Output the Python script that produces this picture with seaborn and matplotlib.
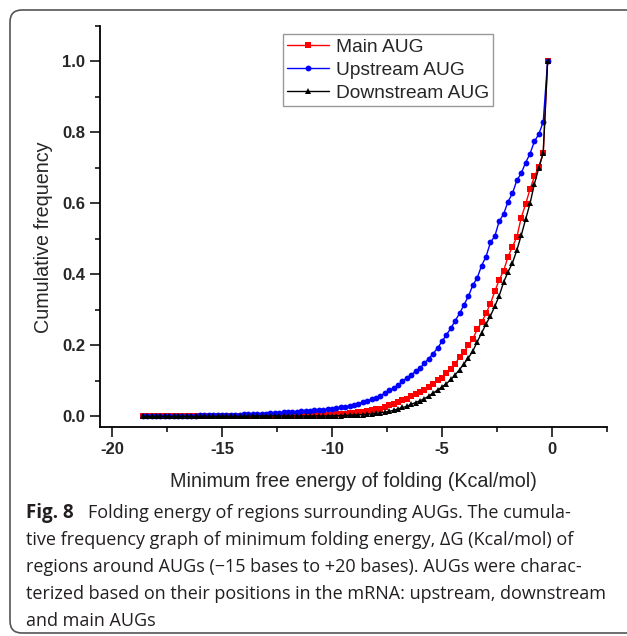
import matplotlib
matplotlib.use("Agg")
import matplotlib.pyplot as plt
import seaborn as sns
from matplotlib.patches import FancyBboxPatch
from matplotlib.transforms import IdentityTransform
from matplotlib.ticker import MultipleLocator

# Bin centres of the folding energy (Kcal/mol)
energy = [-18.6, -18.4, -18.2, -18.0, -17.8, -17.6, -17.4, -17.2, -17.0, -16.8,
          -16.6, -16.4, -16.2, -16.0, -15.8, -15.6, -15.4, -15.2, -15.0, -14.8,
          -14.6, -14.4, -14.2, -14.0, -13.8, -13.6, -13.4, -13.2, -13.0, -12.8,
          -12.6, -12.4, -12.2, -12.0, -11.8, -11.6, -11.4, -11.2, -11.0, -10.8,
          -10.6, -10.4, -10.2, -10.0, -9.8, -9.6, -9.4, -9.2, -9.0, -8.8,
          -8.6, -8.4, -8.2, -8.0, -7.8, -7.6, -7.4, -7.2, -7.0, -6.8,
          -6.6, -6.4, -6.2, -6.0, -5.8, -5.6, -5.4, -5.2, -5.0, -4.8,
          -4.6, -4.4, -4.2, -4.0, -3.8, -3.6, -3.4, -3.2, -3.0, -2.8,
          -2.6, -2.4, -2.2, -2.0, -1.8, -1.6, -1.4, -1.2, -1.0, -0.8,
          -0.6, -0.4, -0.2]

main_aug = [0, 0, 0, 0, 0, 0, 0, 0, 0, 0,
            0, 0, 0, 0, 0, .001, .001, .001, .001, .001,
            .001, .001, .001, .001, .001, .001, .001, .001, .002, .002,
            .002, .002, .002, .002, .002, .003, .003, .003, .003, .004,
            .004, .004, .005, .005, .006, .007, .008, .009, .010, .011,
            .012, .015, .017, .020, .022, .026, .031, .035, .040, .045,
            .049, .056, .062, .068, .075, .084, .092, .102, .108, .121,
            .134, .148, .168, .182, .200, .218, .245, .265, .290, .318,
            .352, .385, .410, .450, .478, .505, .560, .598, .640, .676,
            .703, .742, 1.0]

upstream_aug = [.001, .001, .001, .001, .001, .001, .001, .001, .002, .002,
                .002, .002, .002, .003, .003, .003, .003, .004, .004, .004,
                .005, .005, .005, .006, .006, .007, .007, .008, .008, .009,
                .010, .010, .011, .012, .012, .013, .014, .015, .016, .017,
                .018, .019, .020, .021, .023, .025, .027, .030, .033, .036,
                .040, .044, .048, .053, .058, .065, .073, .080, .088, .099,
                .108, .117, .127, .136, .150, .163, .177, .193, .211, .230,
                .248, .270, .290, .315, .338, .370, .390, .425, .450, .490,
                .508, .550, .570, .605, .628, .665, .685, .715, .740, .775,
                .795, .830, 1.0]

downstream_aug = [0, 0, 0, 0, 0, 0, 0, 0, 0, 0,
                  0, 0, 0, 0, 0, 0, 0, 0, 0, 0,
                  0, 0, 0, 0, 0, .001, .001, .001, .001, .001,
                  .001, .001, .001, .001, .001, .001, .001, .001, .001, .001,
                  .001, .001, .001, .002, .002, .002, .003, .003, .004, .004,
                  .005, .006, .007, .009, .010, .012, .014, .017, .021, .025,
                  .028, .034, .039, .044, .050, .057, .066, .074, .083, .092,
                  .104, .117, .132, .148, .165, .184, .210, .235, .260, .283,
                  .310, .340, .378, .407, .432, .468, .510, .555, .600, .655,
                  .700, .742, 1.0]

x_ticks = [-20, -15, -10, -5, 0]
y_ticks = [0.0, 0.2, 0.4, 0.6, 0.8, 1.0]

caption = [
    "tive frequency graph of minimum folding energy, \u0394G (Kcal/mol) of",
    "regions around AUGs (\u221215 bases to +20 bases). AUGs were charac-",
    "terized based on their positions in the mRNA: upstream, downstream",
    "and main AUGs",
]

sns.set_style("ticks")
plt.rcParams["font.family"] = ["Liberation Sans", "DejaVu Sans"]

fig = plt.figure(figsize=(6.27, 6.36), dpi=100)
ax = fig.add_axes([100 / 627, 1 - 427 / 636, 507 / 627, 401 / 636])

sns.lineplot(x=energy, y=main_aug, ax=ax, color="#ff0000", marker="s",
             markersize=3.8, markeredgewidth=0, linewidth=1.0, label="Main AUG")
sns.lineplot(x=energy, y=upstream_aug, ax=ax, color="#0000ff", marker="o",
             markersize=4.2, markeredgewidth=0, linewidth=1.0, label="Upstream AUG")
sns.lineplot(x=energy, y=downstream_aug, ax=ax, color="#000000", marker="^",
             markersize=4.8, markeredgewidth=0, linewidth=1.0, label="Downstream AUG")

ax.set_xlim(-20.55, 2.5)
ax.set_ylim(-0.03, 1.1)
ax.set_xticks(x_ticks)
ax.set_yticks(y_ticks)
ax.set_xticklabels([str(t) for t in x_ticks], fontweight="bold", fontsize=12)
ax.set_yticklabels([f"{t:.1f}" for t in y_ticks], fontweight="bold", fontsize=12)
ax.xaxis.set_minor_locator(MultipleLocator(2.5))
ax.yaxis.set_minor_locator(MultipleLocator(0.1))
ax.tick_params(which="major", direction="out", length=7.5, width=1.1, color="black", pad=3)
ax.tick_params(which="minor", direction="out", length=3.6, width=1.1, color="black")
for side in ["left", "bottom"]:
    ax.spines[side].set_linewidth(1.3)
    ax.spines[side].set_color("black")
sns.despine(ax=ax)

ax.set_xlabel("Minimum free energy of folding (Kcal/mol)", fontsize=14.2)
ax.set_ylabel("Cumulative frequency", fontsize=14.2)
ax.xaxis.set_label_coords(0.5, -0.135)
ax.xaxis.label.set_va("center")
ax.yaxis.set_label_coords(-0.112, 0.474)
ax.yaxis.label.set_va("center")

leg = ax.legend(loc="upper left", bbox_to_anchor=(0.361, 0.98), borderaxespad=0,
                fontsize=13.8, frameon=True, fancybox=False, handlelength=2.2,
                handletextpad=0.35, labelspacing=0.3, borderpad=0.22)
leg.get_frame().set_edgecolor("#808080")
leg.get_frame().set_linewidth(1.0)

# caption below the chart
cap_font = ["Open Sans", "DejaVu Sans"]
fig.text(26 / 627, 1 - 513 / 636, "Fig. 8", fontsize=13.5, fontweight="bold",
         family=cap_font, va="center", color="#231f20")
fig.text(88 / 627, 1 - 513 / 636, "Folding energy of regions surrounding AUGs. The cumula-",
         fontsize=13, family=cap_font, va="center", color="#231f20")
for i, line in enumerate(caption):
    fig.text(26 / 627, 1 - (540 + 27 * i) / 636, line, fontsize=13,
             family=cap_font, va="center", color="#231f20")

# rounded frame around the figure panel, right side runs off the image
frame = FancyBboxPatch((10, 3), 900, 623, boxstyle="round,pad=0,rounding_size=12",
                       transform=IdentityTransform(), facecolor="none",
                       edgecolor="#555555", linewidth=1.2)
fig.patches.append(frame)

fig.savefig("out.png", dpi=100)
